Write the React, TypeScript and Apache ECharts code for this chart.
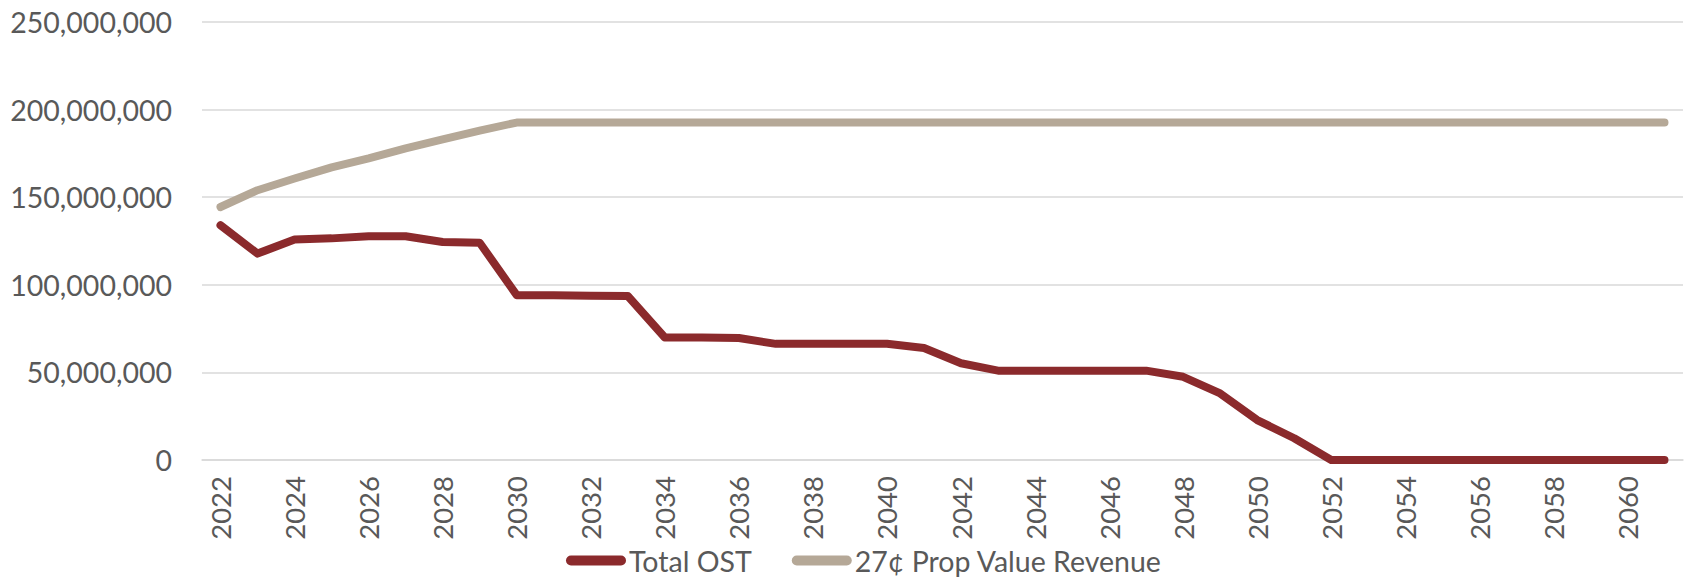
import React, { useEffect, useRef } from "react";
import * as echarts from "echarts";

const years: string[] = [
  "2022", "2023", "2024", "2025", "2026", "2027", "2028", "2029", "2030", "2031",
  "2032", "2033", "2034", "2035", "2036", "2037", "2038", "2039", "2040", "2041",
  "2042", "2043", "2044", "2045", "2046", "2047", "2048", "2049", "2050", "2051",
  "2052", "2053", "2054", "2055", "2056", "2057", "2058", "2059", "2060", "2061",
];

const totalOST: number[] = [
  134000000, 117800000, 125800000, 126500000, 127700000, 127700000, 124400000, 124000000, 94100000, 94000000,
  93700000, 93600000, 69900000, 69900000, 69600000, 66300000, 66300000, 66300000, 66300000, 63900000,
  55200000, 51000000, 51000000, 51000000, 51000000, 51000000, 47500000, 38000000, 22800000, 12400000,
  0, 0, 0, 0, 0, 0, 0, 0, 0, 0,
];

const propValueRevenue: number[] = [
  144400000, 154000000, 160700000, 167000000, 172200000, 177900000, 183000000, 188000000, 192600000, 192600000,
  192600000, 192600000, 192600000, 192600000, 192600000, 192600000, 192600000, 192600000, 192600000, 192600000,
  192600000, 192600000, 192600000, 192600000, 192600000, 192600000, 192600000, 192600000, 192600000, 192600000,
  192600000, 192600000, 192600000, 192600000, 192600000, 192600000, 192600000, 192600000, 192600000, 192600000,
];

const seriesNames: string[] = ["Total OST", "27¢ Prop Value Revenue"];
const yTicks = { min: 0, max: 250000000, interval: 50000000 };

const FONT = "Lato";
const TEXT = "#595959";
const capsule = "path://M5,0 L55,0 A5,5 0 0 1 55,10 L5,10 A5,5 0 0 1 5,0 Z";

export default function App() {
  const ref = useRef<HTMLDivElement>(null);
  useEffect(() => {
    if (!ref.current) return;
    const chart = echarts.init(ref.current, undefined, { renderer: "svg" });
    chart.setOption({
      animation: false,
      color: ["#8B2A2C", "#B5A897"],
      textStyle: { fontFamily: FONT },
      grid: { left: 202, right: 4, top: 22, bottom: 122, containLabel: false },
      legend: {
        data: seriesNames,
        left: 566,
        top: 546,
        padding: 0,
        icon: capsule,
        itemWidth: 62,
        itemHeight: 10,
        itemGap: 40,
        textStyle: { color: TEXT, fontSize: 28.5, fontFamily: FONT, padding: [0, 0, 0, -3] },
      },
      xAxis: {
        type: "category",
        data: years,
        boundaryGap: true,
        axisLine: { show: true, lineStyle: { color: "#D9D9D9", width: 1.5 } },
        axisTick: { show: false },
        axisLabel: {
          interval: 1,
          rotate: 90,
          margin: 16,
          color: TEXT,
          fontSize: 27.5,
          fontFamily: FONT,
        },
        splitLine: { show: false },
      },
      yAxis: {
        type: "value",
        min: yTicks.min,
        max: yTicks.max,
        interval: yTicks.interval,
        axisLine: { show: false },
        axisTick: { show: false },
        axisLabel: {
          margin: 30,
          color: TEXT,
          fontSize: 28.5,
          fontFamily: FONT,
          formatter: (v: number) => v.toLocaleString("en-US"),
        },
        splitLine: { show: true, lineStyle: { color: "#D9D9D9", width: 1.5 } },
      },
      series: [
        {
          name: seriesNames[0],
          type: "line",
          data: totalOST,
          symbol: "none",
          lineStyle: { width: 8, cap: "round", join: "round" },
          z: 3,
        },
        {
          name: seriesNames[1],
          type: "line",
          data: propValueRevenue,
          symbol: "none",
          lineStyle: { width: 8, cap: "round", join: "round" },
          z: 2,
        },
      ],
    });
    return () => chart.dispose();
  }, []);
  return (
    <div
      ref={ref}
      style={{ position: "fixed", left: 0, top: 0, width: 1687, height: 582, background: "#fff" }}
    />
  );
}
